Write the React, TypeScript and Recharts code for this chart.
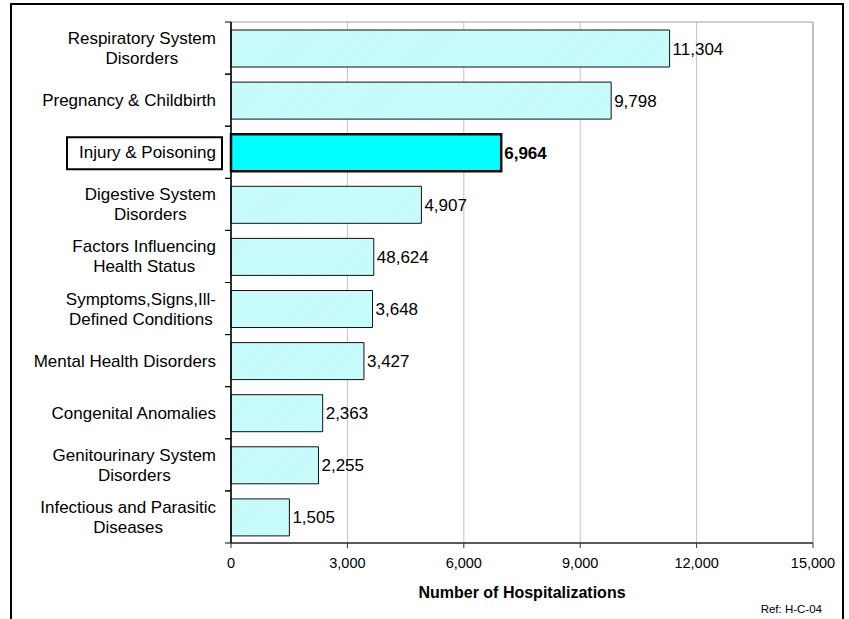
import React from 'react';
import {
  BarChart,
  Bar,
  XAxis,
  YAxis,
  CartesianGrid,
  Cell,
  LabelList,
  ReferenceArea,
} from 'recharts';

// Hospitalizations by diagnosis group
const categories = [
  'Respiratory System Disorders',
  'Pregnancy & Childbirth',
  'Injury & Poisoning',
  'Digestive System Disorders',
  'Factors Influencing Health Status',
  'Symptoms,Signs,Ill-Defined Conditions',
  'Mental Health Disorders',
  'Congenital Anomalies',
  'Genitourinary System Disorders',
  'Infectious and Parasitic Diseases',
];

// how each category name wraps on the axis
const categoryLines = [
  ['Respiratory System', 'Disorders'],
  ['Pregnancy & Childbirth'],
  ['Injury & Poisoning'],
  ['Digestive System', 'Disorders'],
  ['Factors Influencing', 'Health Status'],
  ['Symptoms,Signs,Ill-', 'Defined Conditions'],
  ['Mental Health Disorders'],
  ['Congenital Anomalies'],
  ['Genitourinary System', 'Disorders'],
  ['Infectious and Parasitic', 'Diseases'],
];

const hospitalizations = [11304, 9798, 6964, 4907, 3680, 3648, 3427, 2363, 2255, 1505];

// printed value labels (the Factors label is printed as in the source table)
const valueLabels = ['11,304', '9,798', '6,964', '4,907', '48,624', '3,648', '3,427', '2,363', '2,255', '1,505'];

const xTicks = [0, 3000, 6000, 9000, 12000, 15000];

const highlighted = 'Injury & Poisoning';

const data = categories.map((name, i) => ({
  name,
  value: hospitalizations[i],
  label: valueLabels[i],
  lines: categoryLines[i],
}));

const FONT = '"Liberation Sans", Arial, Helvetica, sans-serif';
const LABEL_SIZE = 17;
const PLOT_TOP = 22;
const PLOT_BOTTOM = 543;
const BAND = (PLOT_BOTTOM - PLOT_TOP) / categories.length;

// two-line labels: lines centred on each other, block right-aligned
let measureCtx: CanvasRenderingContext2D | null = null;
const textWidth = (s: string) => {
  if (!measureCtx) measureCtx = document.createElement('canvas').getContext('2d');
  if (!measureCtx) return s.length * 8.5;
  measureCtx.font = `${LABEL_SIZE}px ${FONT}`;
  return measureCtx.measureText(s).width;
};

const MultiLine = ({ lines, right, first }: { lines: string[]; right: number; first: number }) => {
  const w = Math.max(...lines.map(textWidth));
  const cx = right - w / 2;
  return (
    <text textAnchor="middle" fontFamily={FONT} fontSize={LABEL_SIZE} fill="#000">
      {lines.map((l, i) => (
        <tspan key={i} x={cx} y={first + i * 20}>
          {l}
        </tspan>
      ))}
    </text>
  );
};

const CategoryTick = (props: any) => {
  const { x, y, payload } = props;
  const row = data.find((d) => d.name === payload.value);
  const lines = row ? row.lines : [payload.value];
  const right = x - 15;
  const isHi = payload.value === highlighted;
  const first = lines.length === 1 ? y + 6 : y - 4;
  return (
    <g>
      <line x1={x - 6} x2={x} y1={y - BAND / 2} y2={y - BAND / 2} stroke="#000" />
      <line x1={x - 6} x2={x} y1={y + BAND / 2} y2={y + BAND / 2} stroke="#000" />
      {isHi && (
        <rect x={67} y={y - 15} width={155} height={32} fill="#fff" stroke="#000" strokeWidth={2} />
      )}
      {lines.length === 1 ? (
        <text x={right} y={first} textAnchor="end" fontFamily={FONT} fontSize={LABEL_SIZE} fill="#000">
          {lines[0]}
        </text>
      ) : (
        <MultiLine lines={lines} right={right} first={first} />
      )}
    </g>
  );
};

const ValueLabel = (props: any) => {
  const { x, y, width, height, value, index } = props;
  const isHi = data[index]?.name === highlighted;
  return (
    <text
      x={x + width + 3}
      y={y + height / 2 + 6}
      fontFamily={FONT}
      fontSize={LABEL_SIZE}
      fontWeight={isHi ? 'bold' : 'normal'}
      fill="#000"
    >
      {value}
    </text>
  );
};

const AxisTitle = (props: any) => {
  const { viewBox } = props;
  const cx = viewBox.x + viewBox.width / 2;
  return (
    <g>
      <text x={cx} y={598} textAnchor="middle" fontFamily={FONT} fontSize={16} fontWeight="bold" fill="#000">
        Number of Hospitalizations
      </text>
      <text x={822} y={613} textAnchor="end" fontFamily={FONT} fontSize={11.5} fill="#000">
        Ref: H-C-04
      </text>
    </g>
  );
};

export default function App() {
  return (
    <div
      style={{
        position: 'fixed',
        left: 0,
        top: 0,
        width: 849,
        height: 619,
        overflow: 'hidden',
        background: '#fff',
      }}
    >
      <div
        style={{
          position: 'absolute',
          left: 10,
          top: 3,
          width: 830,
          height: 660,
          border: '2px solid #000',
        }}
      />
      <div style={{ position: 'absolute', left: 0, top: 0 }}>
        <BarChart
          width={849}
          height={619}
          data={data}
          layout="vertical"
          margin={{ top: PLOT_TOP, right: 36, bottom: 46, left: 0 }}
          barSize={37}
        >
          <defs>
            <pattern id="lightHatch" width="3" height="3" patternUnits="userSpaceOnUse" patternTransform="rotate(45)">
              <rect width="3" height="3" fill="#ccfdfd" />
              <line x1="0" y1="0" x2="0" y2="3" stroke="#b4f3f3" strokeWidth="1" />
            </pattern>
          </defs>
          <CartesianGrid horizontal={false} stroke="#c4c4c4" />
          <ReferenceArea x1={0} x2={15000} fill="none" stroke="#a0a0a0" strokeWidth={1} ifOverflow="extendDomain" />
          <XAxis
            type="number"
            domain={[0, 15000]}
            ticks={xTicks}
            height={30}
            axisLine={{ stroke: '#333', strokeWidth: 1.5 }}
            tickLine={{ stroke: '#333' }}
            tickSize={5}
            tickMargin={10}
            tick={{ fontFamily: FONT, fontSize: 14.5, fill: '#000' }}
            tickFormatter={(v: number) => v.toLocaleString('en-US')}
            label={<AxisTitle />}
          />
          <YAxis
            type="category"
            dataKey="name"
            width={231}
            axisLine={{ stroke: '#000', strokeWidth: 1.5 }}
            tickLine={false}
            tickSize={0}
            tickMargin={0}
            interval={0}
            tick={<CategoryTick />}
          />
          <Bar dataKey="value" isAnimationActive={false}>
            {data.map((d, i) => (
              <Cell
                key={`cell-${i}`}
                fill={d.name === highlighted ? '#00ffff' : 'url(#lightHatch)'}
                stroke="#111"
                strokeWidth={d.name === highlighted ? 2.5 : 1}
              />
            ))}
            <LabelList dataKey="label" content={<ValueLabel />} />
          </Bar>
        </BarChart>
      </div>
    </div>
  );
}
